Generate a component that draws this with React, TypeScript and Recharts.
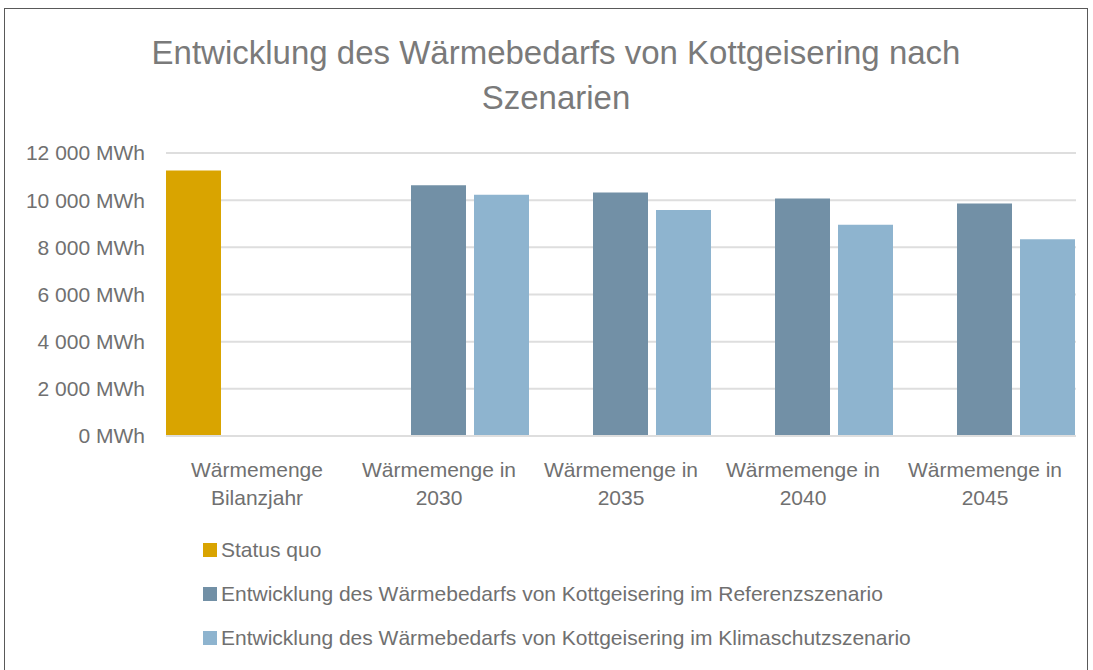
import { BarChart, Bar, XAxis, YAxis, CartesianGrid, Legend } from "recharts"

const categories = [
  "Wärmemenge Bilanzjahr",
  "Wärmemenge in 2030",
  "Wärmemenge in 2035",
  "Wärmemenge in 2040",
  "Wärmemenge in 2045",
]

const statusQuo = [11260, null, null, null, null]
const referenz = [null, 10630, 10320, 10070, 9860]
const klimaschutz = [null, 10225, 9580, 8960, 8340]

const yTicks = [0, 2000, 4000, 6000, 8000, 10000, 12000]

const seriesNames = {
  statusQuo: "Status quo",
  referenz: "Entwicklung des Wärmebedarfs von Kottgeisering im Referenzszenario",
  klimaschutz: "Entwicklung des Wärmebedarfs von Kottgeisering im Klimaschutzszenario",
}
const legendOrder = ["statusQuo", "referenz", "klimaschutz"]

const title = "Entwicklung des Wärmebedarfs von Kottgeisering nach Szenarien"

const data = categories.map((name, i) => ({
  name,
  statusQuo: statusQuo[i],
  referenz: referenz[i],
  klimaschutz: klimaschutz[i],
}))

const font = '"Liberation Sans", Arial, sans-serif'
const textColor = "#707070"

const fmt = (v: number) => `${String(v).replace(/\B(?=(\d{3})+(?!\d))/g, " ")} MWh`

function CategoryTick(props: any) {
  const { x, y, payload } = props
  const label: string = payload.value
  const cut = label.lastIndexOf(" ")
  const lines = [label.slice(0, cut), label.slice(cut + 1)]
  return (
    <text x={x} y={y} textAnchor="middle" fill={textColor} fontSize={21} fontFamily={font}>
      {lines.map((l, i) => (
        <tspan key={i} x={x} dy={i === 0 ? 39 : 28}>
          {l}
        </tspan>
      ))}
    </text>
  )
}

function LegendList(props: any) {
  const items = [...(props.payload || [])].sort(
    (a: any, b: any) => legendOrder.indexOf(a.dataKey) - legendOrder.indexOf(b.dataKey)
  )
  return (
    <div style={{ fontFamily: font, fontSize: 21, color: textColor }}>
      {items.map((p: any) => (
        <div key={p.value} style={{ height: 44, display: "flex", alignItems: "center", whiteSpace: "nowrap" }}>
          <span style={{ width: 14, height: 14, background: p.color, marginRight: 4, display: "inline-block" }} />
          {p.value}
        </div>
      ))}
    </div>
  )
}

export default function App() {
  return (
    <div
      style={{
        position: "absolute",
        left: 0,
        top: 0,
        width: 1093,
        height: 670,
        background: "#fff",
        overflow: "hidden",
        fontFamily: font,
      }}
    >
      <div
        style={{
          position: "absolute",
          left: 4,
          top: 8,
          width: 1084,
          height: 700,
          border: "1px solid #595959",
          boxSizing: "border-box",
        }}
      />
      <div
        style={{
          position: "absolute",
          left: 141,
          top: 30,
          width: 830,
          textAlign: "center",
          fontSize: 33,
          lineHeight: "45px",
          color: "#7a7a7a",
        }}
      >
        {title}
      </div>
      <div style={{ position: "absolute", left: 0, top: 0 }}>
        <BarChart
          width={1093}
          height={670}
          data={data}
          margin={{ top: 153, right: 17, bottom: 174, left: 0 }}
          barCategoryGap={0}
          barGap={8}
        >
          <CartesianGrid vertical={false} stroke="#dedede" strokeWidth={2} />
          <XAxis
            dataKey="name"
            height={60}
            tickLine={false}
            tickSize={0}
            axisLine={{ stroke: "#dedede", strokeWidth: 2 }}
            tick={<CategoryTick />}
            interval={0}
          />
          <YAxis
            width={166}
            domain={[0, 12000]}
            ticks={yTicks}
            axisLine={false}
            tickLine={false}
            tickSize={0}
            tickMargin={21}
            tickFormatter={fmt}
            tick={{ fill: textColor, fontSize: 21, fontFamily: font }}
          />
          <Legend
            layout="vertical"
            align="center"
            verticalAlign="middle"
            content={<LegendList />}
            wrapperStyle={{ left: 203, top: 528, width: 800 }}
          />
          <Bar dataKey="statusQuo" name={seriesNames.statusQuo} fill="#d9a400" isAnimationActive={false} />
          <Bar dataKey="referenz" name={seriesNames.referenz} fill="#7290a6" isAnimationActive={false} />
          <Bar dataKey="klimaschutz" name={seriesNames.klimaschutz} fill="#8eb4cf" isAnimationActive={false} />
        </BarChart>
      </div>
    </div>
  )
}
